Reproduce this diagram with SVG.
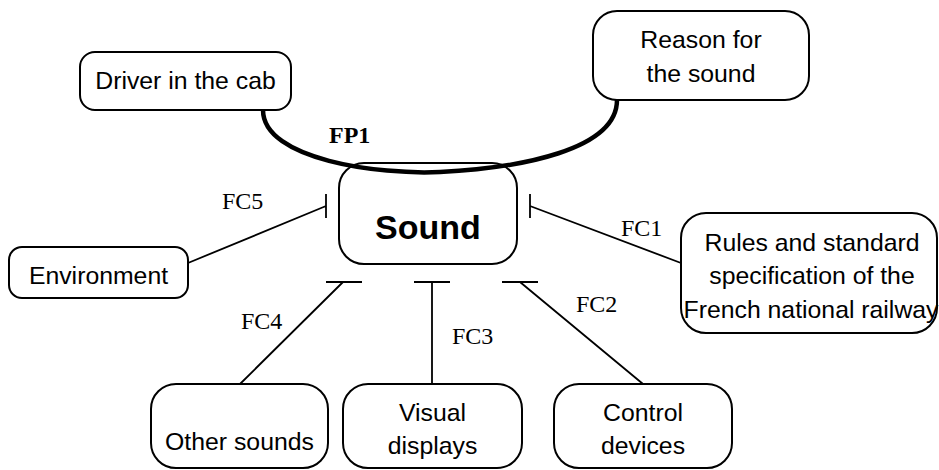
<svg xmlns="http://www.w3.org/2000/svg" width="939" height="470" viewBox="0 0 939 470">
<style>
.box{fill:#fff;stroke:#000;stroke-width:2}
.t{font-family:"Liberation Sans",Arial,sans-serif;font-size:24.8px;fill:#000;text-anchor:middle}
.lbl{font-family:"Liberation Serif","Times New Roman",serif;font-size:24px;fill:#000}
.c{stroke:#000;stroke-width:1.8;fill:none}
</style>
<rect width="939" height="470" fill="#fff"/>
<g id="driver"><rect class="box" x="80" y="52" width="211" height="58" rx="15"/><text class="t" x="185.5" y="89">Driver in the cab</text></g>
<g id="reason"><rect class="box" x="593" y="11" width="216" height="89" rx="24"/><text class="t" x="701" y="48">Reason for</text><text class="t" x="701" y="82">the sound</text></g>
<g id="sound"><rect class="box" x="339" y="163" width="178" height="101" rx="25"/><text class="t" x="428" y="239" style="font-weight:bold;font-size:34px">Sound</text></g>
<g id="environment"><rect class="box" x="9" y="247" width="179" height="51" rx="13"/><text class="t" x="98.5" y="284">Environment</text></g>
<g id="rules"><rect class="box" x="681" y="213" width="256" height="120" rx="25"/><text class="t" x="812" y="251">Rules and standard</text><text class="t" x="812" y="284">specification of the</text><text class="t" x="811" y="318">French national railway</text></g>
<g id="other"><rect class="box" x="151" y="384" width="177" height="84" rx="25"/><text class="t" x="239.5" y="450">Other sounds</text></g>
<g id="visual"><rect class="box" x="343" y="384" width="179" height="84" rx="25"/><text class="t" x="432.5" y="421">Visual</text><text class="t" x="432.5" y="454">displays</text></g>
<g id="control"><rect class="box" x="554" y="384" width="178" height="84" rx="25"/><text class="t" x="643" y="421">Control</text><text class="t" x="643" y="454">devices</text></g>
<g id="connectors">
<path d="M263,110 C263,160 380,175 440,172 C520,168 617,150 617,100" fill="none" stroke="#000" stroke-width="4.5"/>
<text class="lbl" x="329" y="143" style="font-weight:bold">FP1</text>
<path class="c" d="M188,263 L326,206 M326,194 L326,218"/>
<text class="lbl" x="222" y="209">FC5</text>
<path class="c" d="M681,263 L530,206 M530,194 L530,218"/>
<text class="lbl" x="621" y="236">FC1</text>
<path class="c" d="M240,384 L343,282 M326,282 L362,282"/>
<text class="lbl" x="241" y="329">FC4</text>
<path class="c" d="M432,384 L432,282 M414,282 L450,282"/>
<text class="lbl" x="452" y="344">FC3</text>
<path class="c" d="M643,384 L520,282 M502,282 L538,282"/>
<text class="lbl" x="576" y="312">FC2</text>
</g>
</svg>
